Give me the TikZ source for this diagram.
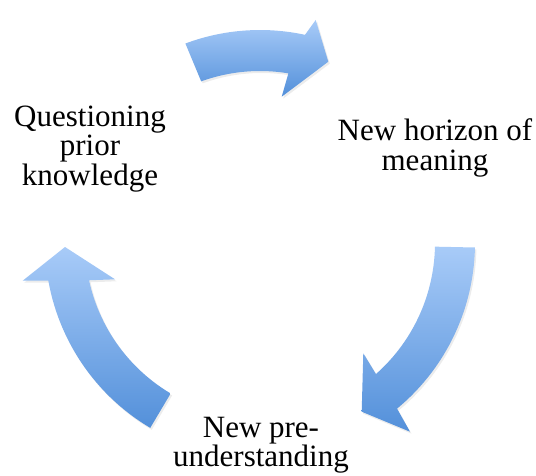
\documentclass[tikz,border=0pt]{standalone}
\usepackage{fontspec}
\setmainfont{Liberation Serif}
\usetikzlibrary{shadows}
\definecolor{arrowtop}{RGB}{168,203,248}
\definecolor{arrowbot}{RGB}{83,144,218}
\begin{document}
\begin{tikzpicture}[x=1pt,y=1pt,
  cyclearrow/.style={top color=arrowtop, bottom color=arrowbot, draw=none,
    drop shadow={opacity=0.15, shadow xshift=1.5pt, shadow yshift=-2pt}},
  cyclelabel/.style={font=\fontsize{31}{29.5}\selectfont, align=center,
    inner sep=0pt, anchor=base, text=black}]
\useasboundingbox (0,0) rectangle (536,475);
% top arrow
\path[cyclearrow] plot[domain=110.5:77.8, samples=30] ({260+213*cos(\x)},{232+213*sin(\x)})
  -- (315.7,455) -- (328.3,413.3) -- (281.7,378.3)
  -- plot[domain=80.5:110, samples=30] ({260+172*cos(\x)},{232+172*sin(\x)}) -- cycle;
% right arrow
\path[cyclearrow] plot[domain=-1.2:-50.4, samples=30] ({260+215*cos(\x)},{232+215*sin(\x)})
  -- (410,43.3) -- (361.7,63.3) -- (363.3,121.7)
  -- plot[domain=-48.5:-1.2, samples=30] ({260+175*cos(\x)},{232+175*sin(\x)}) -- cycle;
% left arrow
\path[cyclearrow] plot[domain=239.3:190.1, samples=30] ({260+215*cos(\x)},{232+215*sin(\x)})
  -- (22.7,194.3) -- (65,228) -- (115,195.7)
  -- plot[domain=192.3:239.3, samples=30] ({260+175*cos(\x)},{232+175*sin(\x)}) -- cycle;
\node[cyclelabel] (qpk) at (90,290) {Questioning\\prior\\knowledge};
\node[cyclelabel] (nhm) at (435,305) {New horizon of\\meaning};
\node[cyclelabel] (npu) at (261,8.3) {New pre-\\understanding};
\end{tikzpicture}
\end{document}
